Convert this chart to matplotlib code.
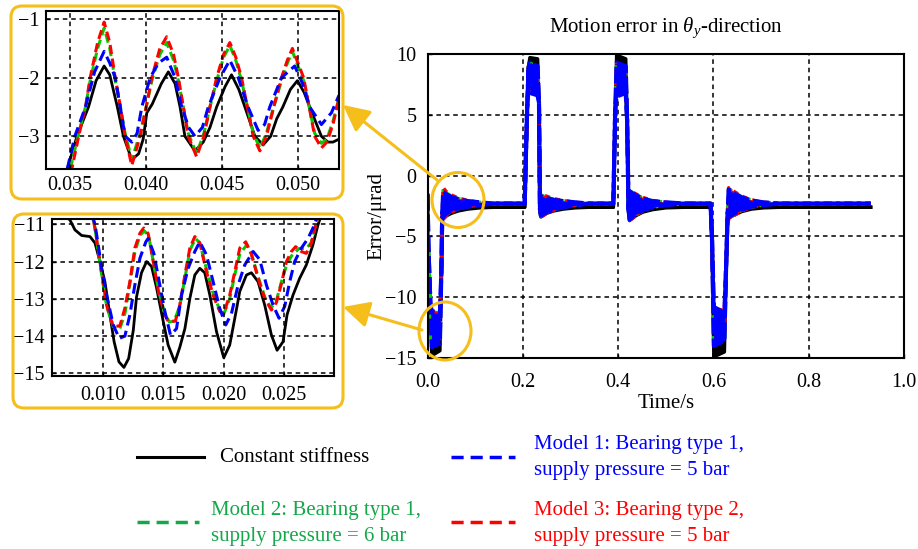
import matplotlib
matplotlib.use("Agg")
import matplotlib.pyplot as plt
from matplotlib.patches import FancyBboxPatch, Ellipse, FancyArrowPatch
from matplotlib.lines import Line2D
from matplotlib.transforms import IdentityTransform

plt.rcParams['font.family'] = ['Liberation Serif', 'DejaVu Serif']
plt.rcParams['mathtext.fontset'] = 'custom'
plt.rcParams['mathtext.rm'] = 'Liberation Serif'
plt.rcParams['mathtext.it'] = 'Liberation Serif:italic'

# ---------------- main panel: time knots and oscillation envelopes (µrad) ----------------
t_main = [0.000, 0.002, 0.006, 0.009, 0.026, 0.029, 0.031, 0.033, 0.040, 0.050, 0.065, 0.085, 0.110, 0.140,
          0.204, 0.208, 0.212, 0.215, 0.231, 0.234, 0.236, 0.238, 0.250, 0.265, 0.285, 0.310, 0.340,
          0.390, 0.394, 0.397, 0.416, 0.419, 0.422, 0.424, 0.437, 0.452, 0.472, 0.500, 0.540,
          0.594, 0.597, 0.601, 0.623, 0.627, 0.630, 0.632, 0.645, 0.660, 0.680, 0.705, 0.740, 0.930]

black_hi = [-2.6, -6.5, -10.8, -11.4, -12.0, -8.5, -3.5, -1.8, -2.0, -2.2, -2.35, -2.45, -2.55, -2.6,
            -2.6, 3.5, 9.0, 9.7, 9.6, 6.0, -3.0, -2.0, -2.2, -2.35, -2.45, -2.55, -2.6,
            -2.6, 5.0, 9.9, 9.6, 4.0, -3.0, -1.8, -2.0, -2.25, -2.4, -2.5, -2.6,
            -2.6, -5.5, -11.5, -12.0, -7.5, -3.2, -1.8, -2.0, -2.25, -2.4, -2.5, -2.6, -2.6]
black_lo = [-2.6, -6.5, -10.8, -14.8, -14.4, -8.5, -3.5, -3.5, -3.3, -3.1, -2.9, -2.75, -2.65, -2.6,
            -2.6, 3.5, 9.0, 7.2, 7.0, 6.0, -3.0, -3.4, -3.1, -2.9, -2.75, -2.65, -2.6,
            -2.6, 5.0, 7.0, 7.2, 4.0, -3.0, -3.7, -3.3, -3.0, -2.8, -2.65, -2.6,
            -2.6, -5.5, -14.9, -14.5, -7.5, -3.2, -3.5, -3.2, -2.95, -2.75, -2.65, -2.6, -2.6]

green_hi = [-1.5, -6.0, -10.5, -11.2, -11.3, -8.0, -3.0, -1.1, -1.45, -1.68, -1.9, -2.08, -2.2, -2.3,
            -2.3, 4.0, 8.8, 9.25, 8.95, 6.0, -2.8, -1.6, -1.78, -1.95, -2.08, -2.2, -2.3,
            -2.3, 5.5, 9.25, 8.95, 4.5, -2.8, -1.25, -1.55, -1.85, -2.08, -2.2, -2.3,
            -2.3, -5.0, -10.9, -11.2, -7.0, -3.0, -1.05, -1.42, -1.75, -2.02, -2.2, -2.3, -2.3]
green_lo = [-1.5, -6.0, -10.5, -13.8, -13.5, -8.0, -3.0, -3.5, -3.2, -2.95, -2.72, -2.55, -2.42, -2.3,
            -2.3, 4.0, 8.8, 6.85, 6.65, 6.0, -2.8, -3.35, -3.05, -2.82, -2.6, -2.45, -2.3,
            -2.3, 5.5, 6.55, 6.85, 4.5, -2.8, -3.65, -3.25, -2.88, -2.6, -2.42, -2.3,
            -2.3, -5.0, -13.9, -13.5, -7.0, -3.0, -3.5, -3.2, -2.85, -2.58, -2.42, -2.3, -2.3]

red_hi = [-1.5, -6.0, -10.5, -11.1, -11.2, -8.0, -3.0, -1.0, -1.35, -1.6, -1.85, -2.05, -2.2, -2.3,
          -2.3, 4.0, 8.8, 9.2, 8.9, 6.0, -2.8, -1.5, -1.7, -1.9, -2.05, -2.2, -2.3,
          -2.3, 5.5, 9.2, 8.9, 4.5, -2.8, -1.2, -1.5, -1.8, -2.05, -2.2, -2.3,
          -2.3, -5.0, -10.9, -11.1, -7.0, -3.0, -1.0, -1.35, -1.7, -2.0, -2.2, -2.3, -2.3]
red_lo = [-1.5, -6.0, -10.5, -13.7, -13.4, -8.0, -3.0, -3.6, -3.3, -3.0, -2.75, -2.55, -2.42, -2.3,
          -2.3, 4.0, 8.8, 6.9, 6.7, 6.0, -2.8, -3.4, -3.1, -2.85, -2.62, -2.45, -2.3,
          -2.3, 5.5, 6.6, 6.9, 4.5, -2.8, -3.7, -3.3, -2.9, -2.62, -2.42, -2.3,
          -2.3, -5.0, -13.8, -13.4, -7.0, -3.0, -3.6, -3.25, -2.9, -2.6, -2.42, -2.3, -2.3]

blue_hi = [-1.5, -6.0, -10.5, -11.2, -11.4, -8.0, -3.0, -1.3, -1.55, -1.75, -1.95, -2.1, -2.2, -2.3,
           -2.3, 4.0, 8.8, 9.3, 9.0, 6.0, -2.8, -1.7, -1.85, -2.0, -2.1, -2.2, -2.3,
           -2.3, 5.5, 9.3, 9.0, 4.5, -2.8, -1.3, -1.6, -1.9, -2.1, -2.2, -2.3,
           -2.3, -5.0, -10.8, -11.3, -7.0, -3.0, -1.15, -1.5, -1.8, -2.05, -2.2, -2.3, -2.3]
blue_lo = [-1.5, -6.0, -10.5, -14.1, -13.8, -8.0, -3.0, -3.4, -3.1, -2.9, -2.7, -2.55, -2.42, -2.3,
           -2.3, 4.0, 8.8, 6.8, 6.6, 6.0, -2.8, -3.3, -3.0, -2.8, -2.6, -2.45, -2.3,
           -2.3, 5.5, 6.5, 6.8, 4.5, -2.8, -3.6, -3.2, -2.85, -2.6, -2.42, -2.3,
           -2.3, -5.0, -14.0, -13.6, -7.0, -3.0, -3.4, -3.1, -2.8, -2.55, -2.42, -2.3, -2.3]

main_xticks = [0.0, 0.2, 0.4, 0.6, 0.8, 1.0]
main_xticklabels = ["0.0", "0.2", "0.4", "0.6", "0.8", "1.0"]
main_yticks = [-15, -10, -5, 0, 5, 10]

# ---------------- zoom A: settling after the first step ----------------
za_t_black = [0.0348, 0.03544, 0.0362, 0.0367, 0.03723, 0.0376, 0.0381, 0.0385, 0.03905, 0.0395, 0.0398,
              0.04004, 0.0404, 0.0410, 0.04146, 0.0419, 0.04223, 0.04255, 0.04321, 0.04376, 0.0442, 0.04464,
              0.0452, 0.04562, 0.0461, 0.0465, 0.04716, 0.0477, 0.0482, 0.0486, 0.049, 0.0495, 0.04996,
              0.0504, 0.05077, 0.05154, 0.05197, 0.0523, 0.0527]
za_black = [-3.56, -3.0, -2.5, -2.05, -1.8, -1.95, -2.5, -3.0, -3.4, -3.3, -3.05,
            -2.6, -2.45, -2.1, -1.9, -2.1, -2.5, -3.0, -3.25, -3.1, -2.85, -2.5,
            -2.15, -1.95, -2.2, -2.5, -3.0, -3.15, -3.0, -2.7, -2.5, -2.2, -2.05,
            -2.25, -2.5, -3.0, -3.1, -3.1, -3.05]

za_t_blue = [0.0348, 0.0353, 0.0360, 0.0366, 0.03723, 0.0376, 0.03796, 0.03829, 0.03861, 0.03905, 0.0394,
             0.03971, 0.04026, 0.0408, 0.04135, 0.0419, 0.04234, 0.0428, 0.04321, 0.0437, 0.04409, 0.04486,
             0.04551, 0.04606, 0.04671, 0.04737, 0.0478, 0.04814, 0.04891, 0.04978, 0.0503, 0.05077,
             0.05154, 0.0522, 0.0527]
za_blue = [-3.56, -3.0, -2.5, -1.9, -1.55, -1.75, -2.0, -2.5, -3.0, -3.1, -2.95,
           -2.5, -2.0, -1.75, -1.65, -2.0, -2.5, -2.85, -3.0, -2.85, -2.5, -2.0,
           -1.7, -2.0, -2.5, -2.9, -2.8, -2.5, -2.0, -1.8, -2.1, -2.5,
           -2.8, -2.6, -2.3]

za_t_red = [0.0351, 0.03555, 0.0360, 0.03631, 0.0368, 0.03723, 0.0376, 0.03796, 0.0383, 0.03861, 0.03905,
            0.0396, 0.0400, 0.04037, 0.0409, 0.04135, 0.0418, 0.04212, 0.04277, 0.04332, 0.0438, 0.0442,
            0.04464, 0.0451, 0.04551, 0.0459, 0.04628, 0.04705, 0.04749, 0.04792, 0.0484, 0.04891,
            0.0493, 0.04963, 0.0500, 0.05037, 0.0511, 0.05154, 0.0519, 0.0523, 0.0527]
za_red = [-3.56, -3.0, -2.5, -2.0, -1.4, -1.05, -1.4, -2.0, -2.5, -3.0, -3.5,
          -3.0, -2.5, -2.0, -1.5, -1.3, -1.6, -2.0, -3.0, -3.35, -3.0, -2.5,
          -2.0, -1.6, -1.4, -1.65, -2.0, -3.0, -3.25, -3.0, -2.5, -2.0,
          -1.7, -1.5, -1.75, -2.0, -3.0, -3.2, -3.1, -2.8, -2.35]

za_t_green = [0.0350, 0.03555, 0.0360, 0.03631, 0.0368, 0.03723, 0.0376, 0.03796, 0.0383, 0.03861, 0.03905,
              0.0396, 0.0400, 0.04037, 0.0409, 0.04135, 0.0418, 0.04212, 0.04277, 0.04332, 0.0438, 0.0442,
              0.04464, 0.0451, 0.04551, 0.0459, 0.04628, 0.04705, 0.04749, 0.04792, 0.0484, 0.04891,
              0.0493, 0.04963, 0.0500, 0.05037, 0.0511, 0.05154, 0.0519, 0.0523, 0.0527]
za_green = [-3.56, -2.95, -2.5, -2.05, -1.5, -1.15, -1.5, -2.05, -2.5, -2.95, -3.4,
            -2.95, -2.5, -2.05, -1.6, -1.4, -1.7, -2.05, -2.95, -3.3, -2.95, -2.5,
            -2.05, -1.65, -1.45, -1.7, -2.05, -2.95, -3.2, -2.95, -2.5, -2.05,
            -1.75, -1.55, -1.8, -2.05, -2.95, -3.12, -3.05, -2.75, -2.35]

za_xticks = [0.035, 0.040, 0.045, 0.050]
za_xticklabels = ["0.035", "0.040", "0.045", "0.050"]
za_yticks = [-3, -2, -1]

# ---------------- zoom B: oscillation at the first negative peak ----------------
zb_t_black = [0.0058, 0.0065, 0.0073, 0.00772, 0.00827, 0.00896, 0.00937, 0.00978, 0.01019, 0.0106, 0.01095,
              0.01135, 0.01176, 0.01215, 0.01253, 0.0128, 0.01321, 0.01363, 0.01404, 0.01445, 0.0150, 0.01541,
              0.01596, 0.01637, 0.01679, 0.0172, 0.01761, 0.01802, 0.01843, 0.01885, 0.0194, 0.0200, 0.02049,
              0.02091, 0.02132, 0.02187, 0.02228, 0.02283, 0.02338, 0.02393, 0.0244, 0.02489, 0.02522,
              0.02571, 0.02626, 0.02681, 0.02736, 0.02777, 0.0282]
zb_black = [-10.5, -10.7, -10.88, -11.15, -11.3, -11.33, -11.5, -12.0, -12.54, -13.43, -14.15,
            -14.69, -14.84, -14.6, -13.85, -12.95, -12.3, -12.0, -12.13, -12.7, -13.6, -14.24,
            -14.7, -14.3, -13.8, -12.99, -12.36, -12.18, -12.3, -12.9, -13.88, -14.58, -14.24,
            -13.52, -12.8, -12.36, -12.3, -12.54, -13.17, -13.97, -14.38, -14.15, -13.43,
            -12.9, -12.45, -12.09, -11.55, -11.02, -10.6]

zb_t_blue = [0.0091, 0.00937, 0.00964, 0.00992, 0.01033, 0.01088, 0.01137, 0.01184, 0.01225, 0.01266, 0.01308,
             0.01357, 0.01376, 0.01423, 0.01467, 0.01514, 0.0156, 0.0161, 0.01651, 0.01706, 0.01761, 0.01802,
             0.01857, 0.01912, 0.01967, 0.02016, 0.02063, 0.02118, 0.02173, 0.02242, 0.02297, 0.02352,
             0.02407, 0.02456, 0.02503, 0.02544, 0.02585, 0.0264, 0.02695, 0.02736, 0.02764, 0.0282]
zb_blue = [-10.7, -11.0, -11.55, -12.18, -12.9, -13.7, -14.06, -14.0, -13.43, -12.63, -11.91,
           -11.47, -11.38, -11.78, -12.54, -13.34, -13.97, -13.8, -12.9, -12.18, -11.73, -11.47,
           -11.82, -12.54, -13.26, -13.7, -13.4, -12.63, -12.09, -11.73, -11.95, -12.63,
           -13.17, -13.52, -13.2, -12.54, -12.0, -11.64, -11.38, -11.1, -10.86, -10.5]

zb_t_red = [0.0091, 0.00937, 0.00978, 0.01033, 0.01088, 0.01143, 0.01184, 0.01225, 0.01266, 0.01308, 0.0134,
            0.01376, 0.01418, 0.01467, 0.01514, 0.0154, 0.0160, 0.01637, 0.01679, 0.0172, 0.01761, 0.01802,
            0.01857, 0.01912, 0.01967, 0.0200, 0.02049, 0.02091, 0.02132, 0.02181, 0.02228, 0.02283,
            0.02338, 0.02393, 0.02434, 0.02475, 0.02517, 0.02558, 0.02593, 0.0264, 0.02681, 0.02723,
            0.02764, 0.0282]
zb_red = [-10.7, -11.1, -12.0, -13.17, -13.75, -13.72, -13.25, -12.54, -11.64, -11.24, -11.1,
          -11.25, -12.0, -12.9, -13.43, -13.6, -13.6, -13.17, -12.36, -11.64, -11.33, -11.5,
          -12.27, -12.9, -13.34, -13.39, -12.9, -12.27, -11.64, -11.47, -11.8, -12.45,
          -12.99, -13.3, -13.1, -12.6, -12.0, -11.73, -11.6, -11.73, -11.78, -11.5,
          -10.95, -10.5]

zb_t_green = [0.0091, 0.00937, 0.00978, 0.01033, 0.01088, 0.0114, 0.01184, 0.01225, 0.01266, 0.01308, 0.01345,
              0.0138, 0.01418, 0.01467, 0.01514, 0.0155, 0.0159, 0.01637, 0.01679, 0.0172, 0.01766, 0.01802,
              0.01857, 0.01912, 0.01967, 0.01995, 0.02049, 0.02091, 0.02132, 0.0219, 0.02228, 0.02283,
              0.02338, 0.0239, 0.02434, 0.02475, 0.02517, 0.02558, 0.0262, 0.02681, 0.0272, 0.0276, 0.0282]
zb_green = [-10.7, -11.1, -12.05, -13.2, -13.75, -13.82, -13.4, -12.6, -11.75, -11.3, -11.18,
            -11.3, -12.0, -12.85, -13.4, -13.62, -13.6, -13.2, -12.45, -11.7, -11.38, -11.5,
            -12.2, -12.85, -13.3, -13.45, -13.0, -12.35, -11.8, -11.55, -11.8, -12.4,
            -12.95, -13.25, -13.05, -12.55, -12.1, -11.85, -11.65, -11.65, -11.5, -11.0, -10.5]

zb_xticks = [0.010, 0.015, 0.020, 0.025]
zb_xticklabels = ["0.010", "0.015", "0.020", "0.025"]
zb_yticks = [-15, -14, -13, -12, -11]

legend_labels = ["Constant stiffness",
                 "Model 1: Bearing type 1,\nsupply pressure = 5 bar",
                 "Model 2: Bearing type 1,\nsupply pressure = 6 bar",
                 "Model 3: Bearing type 2,\nsupply pressure = 5 bar"]

# ---------------- styling ----------------
W, H = 918, 549
C_BLACK, C_BLUE, C_RED, C_GREEN = "#000000", "#0000FF", "#FF0000", "#00CC00"
C_GREEN_TXT = "#14A84A"
C_YEL = "#F5BE1B"
PIX = IdentityTransform()

fig = plt.figure(figsize=(W / 100, H / 100), dpi=100)


def rect(x0, y0, x1, y1):
    """Axes rectangle from pixel box (origin at top-left)."""
    return [x0 / W, 1 - y1 / H, (x1 - x0) / W, (y1 - y0) / H]


def style(ax, fs, xpad=5, ypad=5):
    ax.grid(True, color="black", linestyle=(0, (3, 2.5)), linewidth=1.1)
    ax.set_axisbelow(False)
    ax.tick_params(direction="in", length=3, width=1, labelsize=fs, colors="black")
    ax.tick_params(axis="x", pad=xpad)
    ax.tick_params(axis="y", pad=ypad)
    for s in ax.spines.values():
        s.set_linewidth(1.5)
        s.set_zorder(10)


# ---- main panel ----
ax = fig.add_axes(rect(427.5, 54, 904, 358))
series = [
    (black_lo, black_hi, C_BLACK, "-", 2.5, 2),
    (green_lo, green_hi, C_GREEN, (1.5, (1.5, 1.5)), 2.5, 3),
    (red_lo, red_hi, C_RED, (0, (1.5, 1.5)), 2.5, 4),
    (blue_lo, blue_hi, C_BLUE, (0, (4, 1.0)), 3.0, 5),
]
for lo, hi, col, ls, lw, z in series:
    ax.fill_between(t_main, lo, hi, color=col, linewidth=0, zorder=z)
    ax.plot(t_main, hi, color=col, linestyle=ls, lw=lw, zorder=z)
    ax.plot(t_main, lo, color=col, linestyle=ls, lw=lw, zorder=z)
ax.set_xlim(0, 1.0)
ax.set_ylim(-15, 10)
ax.set_xticks(main_xticks)
ax.set_xticklabels(main_xticklabels)
ax.set_yticks(main_yticks)
style(ax, 14.5, xpad=11, ypad=8)
for gl in ax.get_xgridlines() + ax.get_ygridlines():
    gl.set_zorder(6)

fig.text(665.75 / W, 1 - 28 / H, r"Motion error in $\theta_y$-direction", ha="center", va="center", fontsize=15)
fig.text(665.75 / W, 1 - 404 / H, "Time/s", ha="center", va="center", fontsize=15)
fig.text(377 / W, 1 - 216 / H, "Error/μrad", ha="center", va="center", rotation=90, fontsize=15)


# ---- zoom panels ----
def zoom_panel(r, curves, xlim, ylim, xt, xtl, yt, xpad):
    a = fig.add_axes(r)
    for t, v, col, ls, lw in curves:
        a.plot(t, v, color=col, linestyle=ls, lw=lw)
    a.set_xlim(*xlim)
    a.set_ylim(*ylim)
    a.set_xticks(xt)
    a.set_xticklabels(xtl)
    a.set_yticks(yt)
    style(a, 14.5, xpad=xpad, ypad=5)
    return a


zoom_panel(rect(46, 11, 339, 169),
           [(za_t_black, za_black, C_BLACK, "-", 2.0),
            (za_t_green, za_green, C_GREEN, (0, (3, 1.5)), 2.2),
            (za_t_red, za_red, C_RED, (1.5, (3, 1.5)), 2.2),
            (za_t_blue, za_blue, C_BLUE, (0, (3.5, 1.8)), 2.2)],
           (0.0334, 0.0527), (-3.56, -0.86), za_xticks, za_xticklabels, za_yticks, 5)

zoom_panel(rect(51.7, 219.3, 334.3, 376),
           [(zb_t_black, zb_black, C_BLACK, "-", 2.0),
            (zb_t_green, zb_green, C_GREEN, (0, (3, 1.5)), 2.2),
            (zb_t_red, zb_red, C_RED, (1.5, (3, 1.5)), 2.2),
            (zb_t_blue, zb_blue, C_BLUE, (0, (3.5, 1.8)), 2.2)],
           (0.0058, 0.02912), (-15.07, -10.866), zb_xticks, zb_xticklabels, zb_yticks, 7)

# ---- yellow frames, circles and arrows (pixel coordinates) ----
for x0, y0, x1, y1 in [(11, 6, 343, 199), (13, 214, 343, 408)]:
    fig.add_artist(FancyBboxPatch((x0, H - y1), x1 - x0, y1 - y0,
                                  boxstyle="round,pad=0,rounding_size=11",
                                  transform=PIX, fill=False, ec=C_YEL, lw=2.2))

for cx, cy, w, h in [(458, 200, 52, 55), (445, 331, 52, 58)]:
    fig.add_artist(Ellipse((cx, H - cy), w, h, transform=PIX, fill=False, ec=C_YEL, lw=2.2, zorder=20))

for (xa, ya), (xb, yb) in [((437, 180), (343, 105)), ((422, 330), (343, 307))]:
    fig.add_artist(FancyArrowPatch((xa, H - ya), (xb, H - yb), transform=PIX,
                                   arrowstyle="-|>,head_length=0.8,head_width=0.4",
                                   mutation_scale=20, color=C_YEL, lw=2.2,
                                   shrinkA=0, shrinkB=0, zorder=21))

# ---- legend ----
legend_items = [
    ((137, 204), 457, C_BLACK, "-", 2.2, legend_labels[0], C_BLACK, 220, [457]),
    ((451, 515), 457, C_BLUE, (0, (3.5, 2)), 2.5, legend_labels[1], C_BLUE, 534, [444, 470]),
    ((137, 199), 521.5, C_GREEN_TXT, (0, (3.5, 2)), 2.5, legend_labels[2], C_GREEN_TXT, 211, [510, 536]),
    ((451, 515), 521.5, C_RED, (0, (3.5, 2)), 2.5, legend_labels[3], C_RED, 534, [510, 536]),
]
for (lx0, lx1), ly, lcol, lls, llw, label, tcol, tx, tys in legend_items:
    fig.add_artist(Line2D([lx0, lx1], [H - ly, H - ly], transform=PIX, color=lcol, linestyle=lls, lw=llw))
    for line, ty in zip(label.split("\n"), tys):
        fig.text(tx / W, 1 - ty / H, line, ha="left", va="center", fontsize=15, color=tcol)

fig.savefig("out.png", dpi=100)
